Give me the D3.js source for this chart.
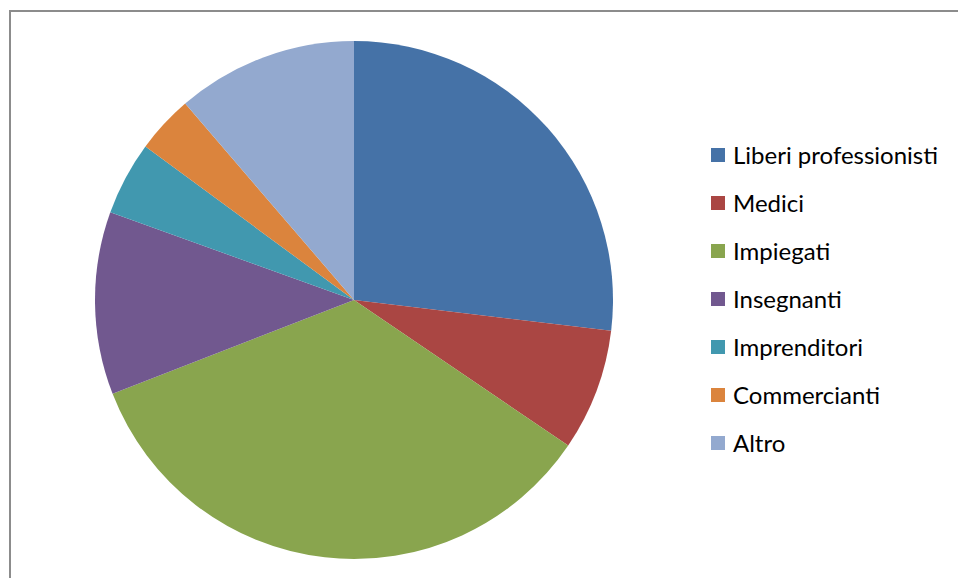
<!DOCTYPE html>
<html>
<head>
<meta charset="utf-8">
<script src="https://cdn.jsdelivr.net/npm/d3@7"></script>
<style>
  html, body { margin: 0; padding: 0; background: #fff; }
  svg { display: block; }
</style>
</head>
<body>
<svg></svg>
<script>
const size = {w: 958, h: 578};

// chart data (percent shares)
const categories = ['Liberi professionisti', 'Medici', 'Impiegati', 'Insegnanti',
                    'Imprenditori', 'Commercianti', 'Altro'];
const values = [26.9, 7.6, 34.6, 11.4, 4.6, 3.6, 11.3];
const colors = ['#4572A7', '#AA4643', '#89A54E', '#71588F', '#4198AF', '#DB843D', '#93A9CF'];

const svg = d3.select('svg')
    .attr('width', size.w)
    .attr('height', size.h);

// chart frame
svg.append('rect')
    .attr('x', 10)
    .attr('y', 11)
    .attr('width', size.w)
    .attr('height', size.h)
    .attr('fill', '#fff')
    .attr('stroke', '#8c8c8c')
    .attr('stroke-width', 2);

const color = d3.scaleOrdinal().domain(categories).range(colors);

const pie = d3.pie()
    .sort(null)
    .value(d => d.value);

const arc = d3.arc()
    .innerRadius(0)
    .outerRadius(259);

const data = categories.map((c, i) => ({name: c, value: values[i]}));

const pieG = svg.append('g')
    .attr('transform', 'translate(354,300)');

pieG.selectAll('path')
    .data(pie(data))
    .enter()
    .append('path')
    .attr('d', arc)
    .attr('fill', d => color(d.data.name));

// legend
const legendG = svg.append('g')
    .attr('transform', 'translate(711,155)');

const items = legendG.selectAll('g')
    .data(categories)
    .enter()
    .append('g')
    .attr('transform', (d, i) => `translate(0,${i * 48})`);

items.append('rect')
    .attr('x', 0)
    .attr('y', -7)
    .attr('width', 14)
    .attr('height', 14)
    .attr('fill', d => color(d));

items.append('text')
    .attr('x', 22)
    .attr('y', 1)
    .attr('dy', '0.35em')
    .attr('font-family', 'Lato, "Open Sans", sans-serif')
    .attr('font-size', 24)
    .attr('fill', '#000')
    .text(d => d);
</script>
</body>
</html>
